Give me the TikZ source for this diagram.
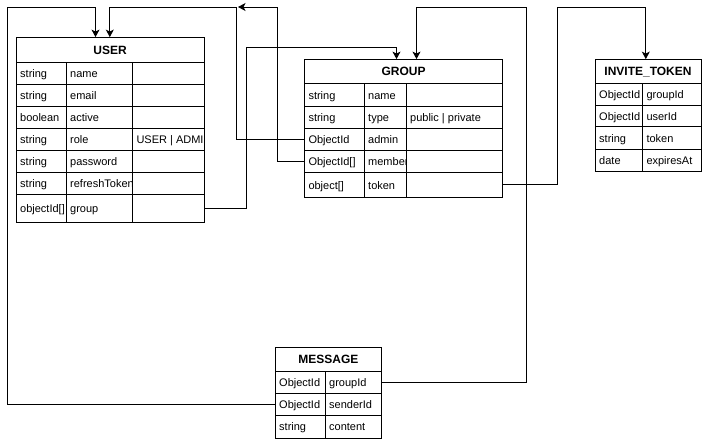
\documentclass[tikz,border=0pt]{standalone}
\usepackage{fontspec}
\setmainfont{Liberation Sans}
\usetikzlibrary{arrows.meta,calc,fit}
\tikzset{
  cellline/.style={draw=black,line width=1pt},
  celltext/.style={anchor=base west,inner xsep=4pt,inner ysep=0pt,font=\fontsize{11pt}{13pt}\selectfont,text=black},
  hdrtext/.style={anchor=base,inner sep=0pt,font=\bfseries\fontsize{12pt}{14pt}\selectfont,text=black},
  area/.style={inner sep=0pt,draw=none},
  conn/.style={draw=black,line width=1pt,-{Stealth[length=7.5pt,width=8pt,inset=2pt]}},
  plainconn/.style={draw=black,line width=1pt}
}
\newcommand\ercell[5]{%
  \draw[cellline] (#1,#2) rectangle (#3,#4);
  \begin{scope}\clip (#1,#2) rectangle (#3,#4);
  \node[celltext] at (#1,{(#2+#4)/2+4.2}) {#5};
  \end{scope}}
\newcommand\erhead[5]{%
  \draw[cellline] (#1,#2) rectangle (#3,#4);
  \node[hdrtext] at ({(#1+#3)/2},{(#2+#4)/2+4.4}) {#5};}
\begin{document}
\begin{tikzpicture}[x=1pt,y=-1pt]
\useasboundingbox[fill=white] (0,0) rectangle (703,442);

% ---------------- USER ----------------
\erhead{16}{37.3}{204.3}{62}{USER}
\foreach \ya/\yb/\ta/\tb/\tc in {62/84/string/name/,84/106/string/email/,106/128/boolean/active/,128/150/string/role/USER | ADMIN,150/172/string/password/,172/194/string/refreshToken/,194/222/objectId[]/group/}{
  \ercell{16}{\ya}{66}{\yb}{\ta}
  \ercell{66}{\ya}{132.3}{\yb}{\tb}
  \ercell{132.3}{\ya}{204.3}{\yb}{\tc}
}
\node[area,fit={(16,37.3) (204.3,222)}] (user) {};
\node[area,fit={(16,194) (204.3,222)}] (usergroup) {};

% ---------------- GROUP ----------------
\erhead{304.3}{59.3}{502.7}{83.3}{GROUP}
\foreach \ya/\yb/\ta/\tb/\tc in {83.3/106.5/string/name/,106.5/128.3/string/type/public | private,128.3/150/ObjectId/admin/,150/172.3/ObjectId[]/members/,172.3/197.3/object[]/token/}{
  \ercell{304.3}{\ya}{364}{\yb}{\ta}
  \ercell{364}{\ya}{406}{\yb}{\tb}
  \ercell{406}{\ya}{502.7}{\yb}{\tc}
}
\node[area,fit={(304.3,59.3) (502.7,197.3)}] (group) {};
\node[area,fit={(304.3,128.3) (502.7,150)}] (groupadmin) {};
\node[area,fit={(304.3,150) (502.7,172.3)}] (groupmembers) {};
\node[area,fit={(304.3,172.3) (502.7,197.3)}] (grouptoken) {};

% ---------------- INVITE_TOKEN ----------------
\erhead{595}{59.3}{701}{83.3}{INVITE\_TOKEN}
\foreach \ya/\yb/\ta/\tb in {83.3/105/ObjectId/groupId,105/126.7/ObjectId/userId,126.7/149/string/token,149/171.7/date/expiresAt}{
  \ercell{595}{\ya}{642.3}{\yb}{\ta}
  \ercell{642.3}{\ya}{701}{\yb}{\tb}
}
\node[area,fit={(595,59.3) (701,171.7)}] (invite) {};

% ---------------- MESSAGE ----------------
\erhead{275}{347.3}{381.7}{371.7}{MESSAGE}
\foreach \ya/\yb/\ta/\tb in {371.7/393.3/ObjectId/groupId,393.3/415/ObjectId/senderId,415/438.3/string/content}{
  \ercell{275}{\ya}{325}{\yb}{\ta}
  \ercell{325}{\ya}{381.7}{\yb}{\tb}
}
\node[area,fit={(275,347.3) (381.7,438.3)}] (message) {};
\node[area,fit={(275,371.7) (381.7,393.3)}] (msggroup) {};
\node[area,fit={(275,393.3) (381.7,415)}] (msgsender) {};

% ---------------- connectors ----------------
\coordinate (mtip) at (238,7);
\draw[conn] (msgsender.west) -| (7,7) -| ($(user.north west)+(79.7,0)$);
\draw[conn] (groupadmin.west) -| (236,7) -| ($(user.north west)+(94,0)$);
\draw[conn] (groupmembers.west) -| (277.3,7) -- (mtip);
\draw[conn] (usergroup.east) -| (246,47.7) -| ($(group.north west)+(92.4,0)$);
\draw[conn] (msggroup.east) -| (526.7,7) -| ($(group.north west)+(112.4,0)$);
\draw[conn] (grouptoken.east) -| (557.7,7) -| ($(invite.north west)+(51,0)$);
\end{tikzpicture}
\end{document}
